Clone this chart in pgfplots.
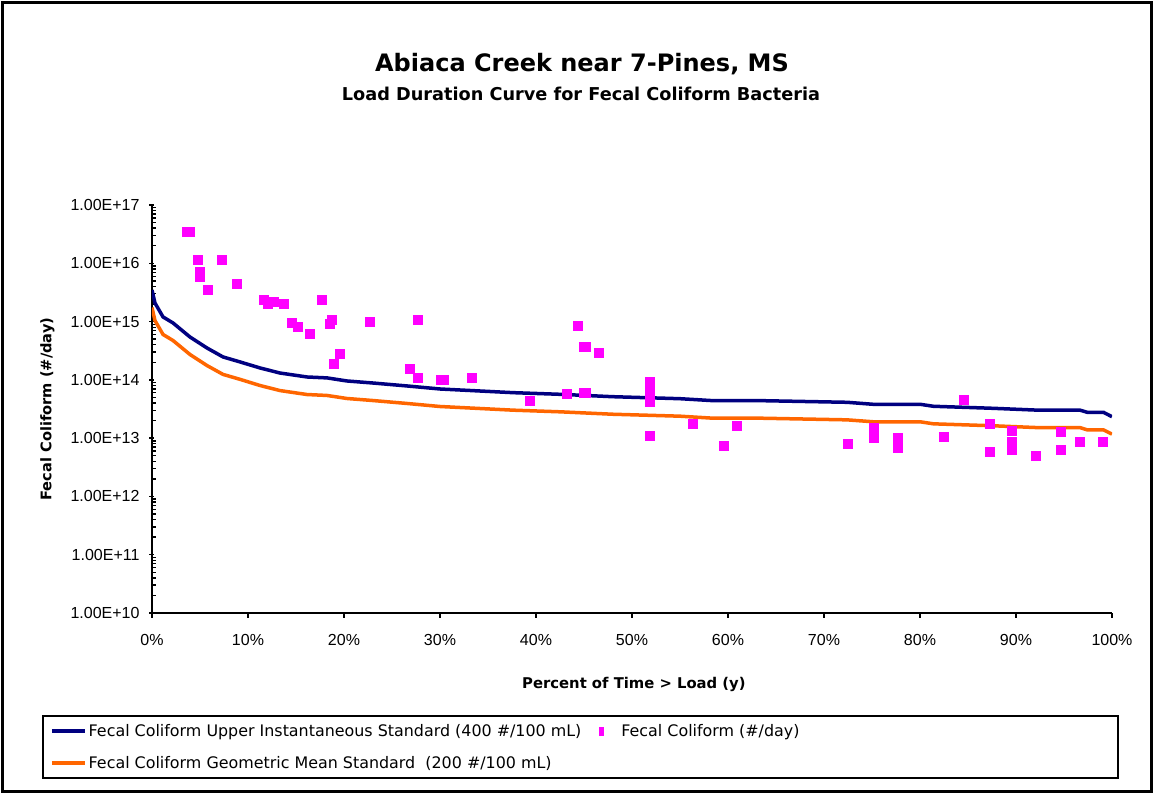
\documentclass[border=0pt]{standalone}
\usepackage{pgfplots}
\pgfplotsset{compat=1.18}
\usepackage{pgfplotstable}
\usepackage{fontspec}
\setmainfont{Liberation Sans}
\newfontfamily\dejavu{DejaVu Sans}

\definecolor{navyline}{HTML}{000080}
\definecolor{orangeline}{HTML}{FF6600}
\definecolor{fcmag}{HTML}{FF00FF}

\pgfplotsset{
  longline legend/.style={legend image code/.code={\draw[##1] (0pt,0pt) -- (33pt,0pt);}},
  mark legend/.style={legend image code/.code={%
    \fill[fcmag, draw=none] (7.5pt,-4.5pt) rectangle (12.5pt,4.5pt);
    \path[draw=none, fill=none] (0pt,0pt) -- (28pt,0pt);}},
}

% Upper instantaneous standard load (400 #/100 mL) vs. flow exceedance
\pgfplotstableread{
pct load
0     3.48e15
0.31  2.08e15
1.15  1.20e15
2.19  9.46e14
3.96  5.43e14
5.73  3.52e14
7.40  2.47e14
9.17  2.03e14
11.25 1.60e14
13.33 1.31e14
16.15 1.12e14
18.23 1.08e14
20.3  9.57e13
23.0  8.83e13
26.6  7.85e13
30.0  6.97e13
37.6  6.03e13
42.5  5.65e13
48.0  5.14e13
55.0  4.75e13
58.4  4.40e13
63.3  4.40e13
72.4  4.12e13
75.1  3.81e13
80.0  3.81e13
81.4  3.52e13
87.6  3.25e13
92.5  3.01e13
96.7  3.01e13
97.4  2.78e13
99.1  2.78e13
100   2.33e13
}\upperstd

% Geometric mean standard load (200 #/100 mL)
\pgfplotstableread{
pct load
0     1.74e15
0.31  1.04e15
1.15  6.00e14
2.19  4.73e14
3.96  2.72e14
5.73  1.76e14
7.40  1.24e14
9.17  1.02e14
11.25 8.00e13
13.33 6.55e13
16.15 5.60e13
18.23 5.40e13
20.3  4.79e13
23.0  4.42e13
26.6  3.93e13
30.0  3.49e13
37.6  3.02e13
42.5  2.83e13
48.0  2.57e13
55.0  2.38e13
58.4  2.20e13
63.3  2.20e13
72.4  2.06e13
75.1  1.91e13
80.0  1.91e13
81.4  1.76e13
87.6  1.63e13
92.5  1.51e13
96.7  1.51e13
97.4  1.39e13
99.1  1.39e13
100   1.17e13
}\geostd

% Observed fecal coliform loads
\pgfplotstableread{
pct load
3.61  3.48e16
3.90  3.48e16
4.76  1.15e16
5.00  7.09e15
5.00  5.93e15
5.80  3.58e15
7.26  1.15e16
8.82  4.47e15
11.59 2.35e15
12.05 2.00e15
12.64 2.19e15
13.75 2.03e15
17.68 2.35e15
14.55 9.57e14
15.18 8.17e14
16.39 6.20e14
18.72 1.08e15
18.47 9.20e14
19.55 2.81e14
18.89 1.89e14
22.64 9.95e14
27.68 1.08e15
26.84 1.56e14
27.68 1.09e14
30.10 1.01e14
30.40 1.01e14
33.30 1.09e14
39.38 4.40e13
43.20 5.79e13
44.34 8.40e14
45.00 3.71e14
45.20 3.71e14
46.56 2.93e14
45.00 6.03e13
45.20 6.03e13
51.84 9.31e13
51.84 6.27e13
51.84 4.22e13
51.84 1.10e13
56.32 1.77e13
59.55 7.43e12
60.91 1.64e13
72.47 8.04e12
75.18 1.51e13
75.18 1.02e13
77.68 1.01e13
77.68 8.26e12
77.68 6.78e12
82.47 1.06e13
84.55 4.57e13
87.26 1.77e13
87.26 5.86e12
89.55 1.34e13
89.55 8.69e12
89.55 6.34e12
92.05 5.00e12
94.66 1.29e13
94.66 6.34e12
96.64 8.69e12
99.03 8.69e12
}\observed

\begin{document}
\begin{tikzpicture}
\useasboundingbox (0pt,0pt) rectangle (1154pt,-794pt);
\draw[line width=3pt] (2.5pt,-2.5pt) rectangle (1151.5pt,-791.5pt);

\node[anchor=base, font=\dejavu\fontsize{24}{29}\bfseries\selectfont] at (582pt,-72pt) {Abiaca Creek near 7-Pines, MS};
\node[anchor=base, font=\dejavu\fontsize{17.7}{21}\bfseries\selectfont] at (581pt,-101pt) {Load Duration Curve for Fecal Coliform Bacteria};

\begin{axis}[
  at={(152pt,-613pt)}, anchor=south west,
  scale only axis, width=960pt, height=408pt,
  ymode=log,
  xmin=0, xmax=100, ymin=1e10, ymax=1e17,
  axis lines=left,
  axis line style={line width=1.6pt, -},
  tick align=outside,
  major tick length=5pt, minor tick length=4pt,
  tick style={line width=1.4pt, black},
  major y tick style={xshift=2pt},
  minor y tick style={xshift=4pt},
  xtick={0,10,...,100},
  xticklabels={0\%,10\%,20\%,30\%,40\%,50\%,60\%,70\%,80\%,90\%,100\%},
  ytick={1e10,1e11,1e12,1e13,1e14,1e15,1e16,1e17},
  yticklabels={1.00E+10,1.00E+11,1.00E+12,1.00E+13,1.00E+14,1.00E+15,1.00E+16,1.00E+17},
  minor ytick={2e10,3e10,4e10,5e10,6e10,7e10,8e10,9e10,
               2e11,3e11,4e11,5e11,6e11,7e11,8e11,9e11,
               2e12,3e12,4e12,5e12,6e12,7e12,8e12,9e12,
               2e13,3e13,4e13,5e13,6e13,7e13,8e13,9e13,
               2e14,3e14,4e14,5e14,6e14,7e14,8e14,9e14,
               2e15,3e15,4e15,5e15,6e15,7e15,8e15,9e15,
               2e16,3e16,4e16,5e16,6e16,7e16,8e16,9e16},
  /pgf/number format/assume math mode=true,
  ticklabel style={font=\fontsize{16}{19}\selectfont},
  xticklabel style={yshift=-13pt},
  yticklabel style={xshift=-4pt},
  xlabel={Percent of Time > Load (y)},
  ylabel={Fecal Coliform (\#/day)},
  xlabel style={at={(axis description cs:0.502,-0.174)}, anchor=center,
                font=\dejavu\fontsize{14.8}{18}\bfseries\selectfont},
  ylabel style={at={(axis description cs:-0.109,0.5)}, anchor=center,
                font=\dejavu\fontsize{14.6}{18}\bfseries\selectfont},
  legend columns=2,
  transpose legend,
  longline legend,
  legend style={at={(axis description cs:-0.10625,-0.3284)}, anchor=west,
                draw=none, fill=none, inner sep=0pt, row sep=14pt,
                font=\dejavu\fontsize{15.9}{19}\selectfont,
                cells={anchor=west},
                /tikz/every even column/.append style={column sep=8pt}},
]
\addplot[navyline, line width=3.5pt] table[x=pct, y=load] {\upperstd};
\addlegendentry{Fecal Coliform Upper Instantaneous Standard (400 \#/100 mL)}
\addplot[orangeline, line width=3.5pt] table[x=pct, y=load] {\geostd};
\addlegendentry{Fecal Coliform Geometric Mean Standard\ \ (200 \#/100 mL)}
\addplot[only marks, mark=square*, mark size=4.5pt, fcmag, mark legend] table[x=pct, y=load] {\observed};
\addlegendentry{Fecal Coliform (\#/day)}
\end{axis}

\draw[line width=1.5pt] (43pt,-716pt) rectangle (1118pt,-778pt);
\end{tikzpicture}
\end{document}
